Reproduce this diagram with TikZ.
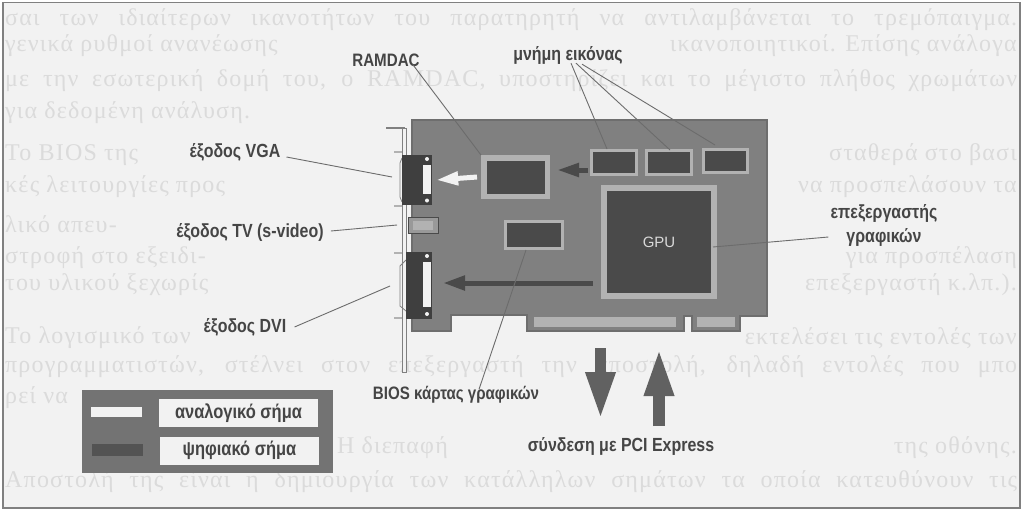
\documentclass[tikz,border=0pt]{standalone}
\usepackage{fontspec}
\setmainfont{Liberation Serif}
\newfontfamily\pagefont[LetterSpace=5]{Liberation Serif}
\newfontfamily\labelfont[FakeStretch=0.84]{Liberation Sans}
\newfontfamily\plainfont{Liberation Sans}
\usetikzlibrary{arrows.meta}
\definecolor{paper}{gray}{0.95}
\definecolor{ghost}{gray}{0.86}
\definecolor{boardgray}{gray}{0.50}
\definecolor{chipgray}{gray}{0.29}
\definecolor{rimgray}{gray}{0.70}
\definecolor{inkgray}{gray}{0.27}
\tikzstyle{pagetext} = [anchor=west, inner sep=0pt, text=ghost, font=\pagefont\fontsize{24}{26}\selectfont]
\tikzstyle{pageright} = [pagetext, anchor=east]
\tikzstyle{chip} = [rectangle, draw=rimgray, fill=chipgray, line width=3pt]
\tikzstyle{port} = [rectangle, fill=chipgray!85!black, minimum width=30pt]
\tikzstyle{slot} = [rectangle, fill=paper, minimum width=8pt, inner sep=0pt]
\tikzstyle{screw} = [circle, fill=paper, minimum size=4pt, inner sep=0pt]
\tikzstyle{finger} = [rectangle, fill=rimgray, minimum height=10pt, inner sep=0pt]
\tikzstyle{label} = [inner sep=0pt, align=center, text=inkgray, font=\labelfont\bfseries\fontsize{19}{24}\selectfont]
\tikzstyle{legendbox} = [rectangle, fill=paper, minimum width=159pt, minimum height=28pt, inner sep=0pt, align=center, text=inkgray, font=\labelfont\bfseries\fontsize{19.6}{24}\selectfont]
\tikzstyle{leader} = [draw=gray!85!black, line width=0.9pt]
\tikzstyle{analog} = [draw=paper, line width=5pt, -{Triangle[length=22pt,width=13pt]}]
\tikzstyle{digital} = [draw=chipgray, line width=5pt, -{Triangle[length=22pt,width=13pt]}]
\tikzstyle{bus} = [draw=inkgray!85!white, line width=11.5pt, -{Triangle[length=48pt,width=27pt]}]

\begin{document}
\begin{tikzpicture}[x=1pt,y=-1pt]
\useasboundingbox (0,0) rectangle (1024,512);

% Page
\draw[fill=paper, draw=gray, line width=1.5pt] (3,2.5) rectangle (1020,508);
\foreach \y/\line in {
  20/{σαι των ιδιαίτερων ικανοτήτων του παρατηρητή να αντιλαμβάνεται το τρεμόπαιγμα.},
  81/{με την εσωτερική δομή του, ο RAMDAC, υποστηρίζει και το μέγιστο πλήθος χρωμάτων}}
  \node (line\y) [pagetext] at (5,\y) {\makebox[1012pt][s]{\line}};
\foreach \y/\line in {
  46/{γενικά ρυθμοί ανανέωσης},
  113/{για δεδομένη ανάλυση.},
  155/{Το BIOS της},
  187/{κές λειτουργίες προς},
  224/{λικό απευ-},
  258/{στροφή στο εξειδι-},
  285/{του υλικού ξεχωρίς},
  338/{Το λογισμικό των},
  398/{ρεί να}}
  \node (line\y) [pagetext] at (5,\y) {\line};
\foreach \y/\line in {
  46/{ικανοποιητικοί. Επίσης ανάλογα},
  155/{σταθερά στο βασι},
  187/{να προσπελάσουν τα},
  258/{για προσπέλαση},
  285/{επεξεργαστή κ.λπ.).},
  338/{εκτελέσει τις εντολές των},
  448/{της οθόνης.}}
  \node (right\y) [pageright] at (1017,\y) {\line};
\node (line367) [pagetext] at (5,367) {\makebox[1012pt][s]{προγραμματιστών, στέλνει στον επεξεργαστή την αποστολή, δηλαδή εντολές που μπο}};
\node (line448) [pagetext] at (337,448) {Η διεπαφή};
\node (line480) [pagetext] at (5,482) {\makebox[1012pt][s]{Αποστολή της είναι η δημιουργία των κατάλληλων σημάτων τα οποία κατευθύνουν τις}};

% Bracket
\draw[fill=paper, draw=gray, line width=1pt] (402.5,128) rectangle (406.5,372);
\draw[draw=gray, line width=2pt] (386,128) -- (405,128);
\foreach \y in {152,206,253,318}
  \draw[draw=gray!60, line width=2pt] (394,\y) -- (402,\y);

% Board
\draw[fill=boardgray, draw=chipgray!80, line width=1.8pt, line join=miter]
  (412,120) -- (767,120) -- (767,316) -- (740,316) -- (740,331) -- (692,331) -- (692,316)
  -- (684,316) -- (684,331) -- (527,331) -- (527,315) -- (451,315) -- (451,331) -- (412,331) -- cycle;
\node (finger1) [finger, minimum width=142pt] at (605,322) {};
\node (finger2) [finger, minimum width=38pt] at (716,322) {};

% Chips
\node (ramdac) [chip, line width=5.5pt, minimum width=63.5pt, minimum height=38.5pt] at (515.5,177) {};
\node (mem1) [chip, minimum width=45pt, minimum height=24pt] at (614,162.5) {};
\node (mem2) [chip, minimum width=45pt, minimum height=24pt] at (669,162.5) {};
\node (mem3) [chip, minimum width=44pt, minimum height=23.5pt] at (725.5,161) {};
\node (gpu) [chip, line width=6pt, minimum width=110pt, minimum height=108pt, text=rimgray!50!white, font=\plainfont\fontsize{15}{15}\selectfont] at (659,242) {GPU};
\node (bios) [chip, minimum width=57pt, minimum height=27pt] at (534,235) {};

% Ports
\draw[draw=gray, line width=0.8pt] (402,158) -- (400,163) -- (400,197) -- (402,202);
\draw[draw=gray, line width=0.8pt] (406,260) -- (400,266) -- (400,306) -- (406,311);
\node (vga) [port, minimum height=50pt] at (417,180) {};
\node (vgaslot) [slot, minimum height=29pt] at (427,179.5) {};
\node (vgatop) [screw] at (427,159) {};
\node (vgabot) [screw] at (427,200.5) {};
\node (tv) [rectangle, fill=boardgray!80, draw=chipgray, line width=1pt, minimum width=30pt, minimum height=16pt] at (423.5,225.5) {};
\node (tvcore) [rectangle, fill=rimgray, minimum width=20pt, minimum height=9pt, inner sep=0pt] at (423,225.5) {};
\node (dvi) [port, minimum width=26pt, minimum height=67pt] at (419,285.5) {};
\node (dvislot) [slot, minimum height=45pt] at (427,284.5) {};
\node (dvitop) [screw] at (427,256) {};
\node (dvibot) [screw] at (427,314) {};

% Signal arrows
\coordinate (analogstart) at (477,177);
\coordinate (memstart) at (588,170);
\coordinate (gpustart) at (593,283);
\coordinate (dviin) at (443,283);
\draw[analog] (analogstart) -- ([xshift=4pt]vga.east);
\draw[digital] (memstart) -- ([xshift=7pt]ramdac.east |- memstart);
\draw[digital, -{Triangle[length=22pt,width=14pt]}] (gpustart) -- (dviin);

% Bus arrows
\coordinate (busdown) at (600.5,348);
\coordinate (busdownend) at (600.5,420);
\coordinate (busup) at (659,426);
\coordinate (busupend) at (659,348);
\draw[bus] (busdown) -- (busdownend);
\draw[bus] (busup) -- (busupend);

% Labels
\node (lblramdac) [label, font=\labelfont\bfseries\fontsize{18}{24}\selectfont] at (386,60) {RAMDAC};
\node (lblmem) [label] at (568,55) {μνήμη εικόνας};
\node (lblvga) [label] at (235,152) {έξοδος VGA};
\node (lbltv) [label] at (250,232) {έξοδος TV (s-video)};
\node (lbldvi) [label] at (245,327) {έξοδος DVI};
\node (lblbios) [label, font=\labelfont\bfseries\fontsize{18}{24}\selectfont] at (456,395) {BIOS κάρτας γραφικών};
\node (lblpci) [label] at (621,446) {σύνδεση με PCI Express};
\node (lblgpu) [label] at (884,225) {επεξεργαστής\\γραφικών};

% Leaders
\coordinate (mem1top) at (607,149);
\coordinate (mem2top) at (670,150);
\coordinate (mem3top) at (715,145);
\coordinate (vgaend) at (392,177);
\coordinate (tvend) at (397,225);
\coordinate (dviend) at (390,286);
\coordinate (gpuend) at (713,247);
\draw[leader] ([xshift=-7pt,yshift=2pt]lblramdac.south east) -- (ramdac.north west);
\draw[leader] ([xshift=3pt,yshift=1pt]lblmem.south) -- (mem1top);
\draw[leader] ([xshift=8pt,yshift=1pt]lblmem.south) -- (mem2top);
\draw[leader] ([xshift=14pt,yshift=0pt]lblmem.south) -- (mem3top);
\draw[leader] ([xshift=6pt,yshift=-5pt]lblvga.east) -- (vgaend);
\draw[leader] ([xshift=7pt,yshift=1pt]lbltv.east) -- (tvend);
\draw[leader] ([xshift=8pt]lbldvi.east) -- (dviend);
\draw[leader] ([xshift=23pt,yshift=-3pt]lblbios.north) -- ([xshift=-8pt]bios.south);
\draw[leader] ([xshift=-2pt,yshift=-12pt]lblgpu.west) -- (gpuend);

% Legend
\node (legend) [rectangle, fill=boardgray!110!white, minimum width=251pt, minimum height=83pt] at (207.5,431.5) {};
\node (lganalog) [legendbox] at (238.5,413) {αναλογικό σήμα};
\node (lgdigital) [legendbox] at (239.5,450.5) {ψηφιακό σήμα};
\node (swanalog) [rectangle, fill=paper, minimum width=51pt, minimum height=10pt, inner sep=0pt] at (116.5,412) {};
\node (swdigital) [rectangle, fill=chipgray!95!white, minimum width=51pt, minimum height=12pt, inner sep=0pt] at (117.5,450) {};

\end{tikzpicture}
\end{document}
